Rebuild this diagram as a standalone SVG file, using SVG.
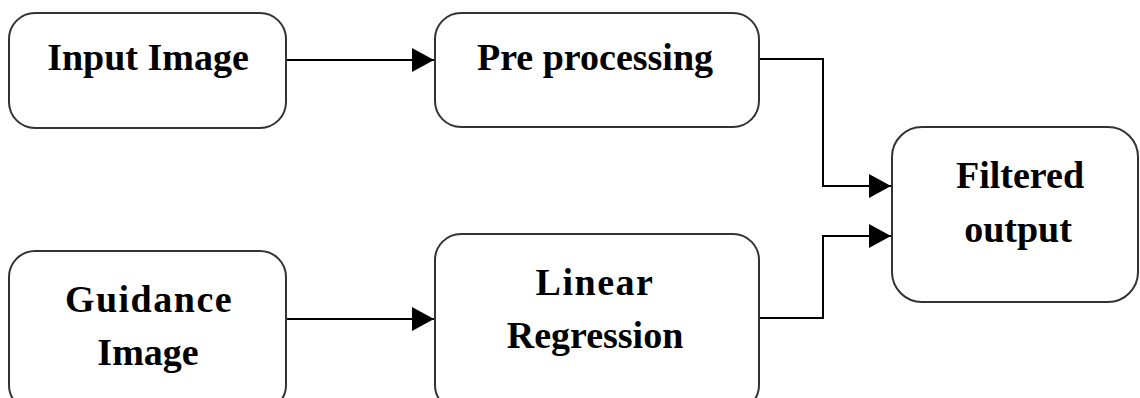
<svg xmlns="http://www.w3.org/2000/svg" width="1140" height="398" viewBox="0 0 1140 398">
<style>
.box{fill:#fff;stroke:#333;stroke-width:2}
.lbl{font-family:"Liberation Serif","Times New Roman",serif;font-weight:bold;font-size:38px;fill:#000;text-anchor:middle}
.conn{fill:none;stroke:#000;stroke-width:2}
</style>
<defs>
<marker id="ah" markerUnits="userSpaceOnUse" markerWidth="22" markerHeight="24" refX="22" refY="12" orient="auto">
<path d="M0,0 L22,12 L0,24 Z" fill="#000"/>
</marker>
</defs>
<rect width="1140" height="398" fill="#fff"/>
<g id="connectors">
<path class="conn" d="M286,60 H434" marker-end="url(#ah)"/>
<path class="conn" d="M286,319 H434" marker-end="url(#ah)"/>
<path class="conn" d="M759,59 H823 V186 H891" marker-end="url(#ah)"/>
<path class="conn" d="M759,318 H823 V236 H891" marker-end="url(#ah)"/>
</g>
<g id="input-image">
<rect class="box" x="9" y="13" width="277" height="115" rx="26"/>
<text class="lbl" x="148" y="70">Input Image</text>
</g>
<g id="pre-processing">
<rect class="box" x="435" y="13" width="324" height="114" rx="26"/>
<text class="lbl" x="595" y="70">Pre processing</text>
</g>
<g id="filtered-output">
<rect class="box" x="892" y="127" width="246" height="175" rx="30"/>
<text class="lbl" x="1020" y="188">Filtered</text>
<text class="lbl" x="1018" y="242">output</text>
</g>
<g id="guidance-image">
<rect class="box" x="9" y="251" width="277" height="160" rx="26"/>
<text class="lbl" x="149" y="312" letter-spacing="1.5">Guidance</text>
<text class="lbl" x="148" y="365">Image</text>
</g>
<g id="linear-regression">
<rect class="box" x="435" y="234" width="324" height="177" rx="26"/>
<text class="lbl" x="595" y="295" letter-spacing="1.5">Linear</text>
<text class="lbl" x="595" y="348">Regression</text>
</g>
</svg>
